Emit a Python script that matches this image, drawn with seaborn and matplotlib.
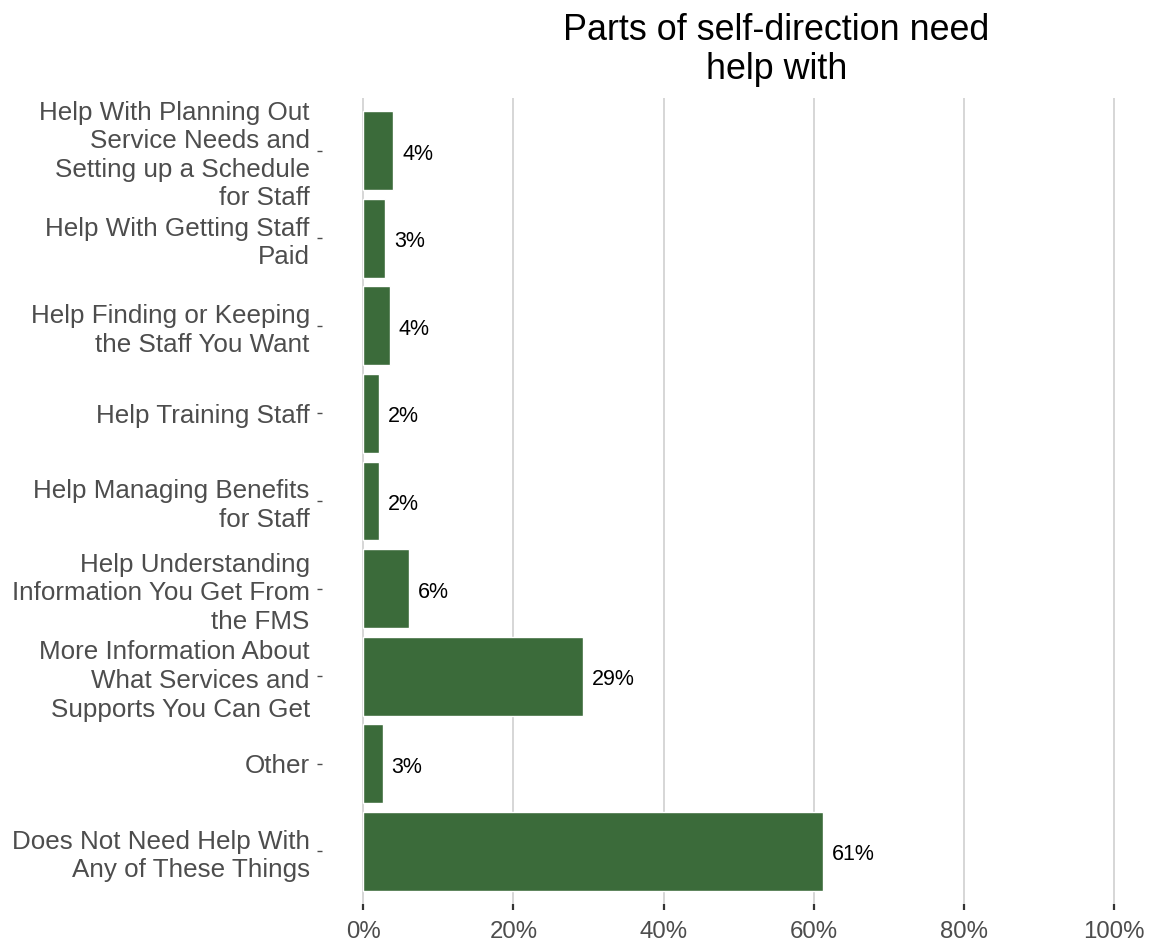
import numpy as np
import pandas as pd
import seaborn as sns
import matplotlib
matplotlib.use("Agg")
import matplotlib.pyplot as plt
from matplotlib.ticker import PercentFormatter

# data
categories = [
    "Help With Planning Out\nService Needs and\nSetting up a Schedule\nfor Staff",
    "Help With Getting Staff\nPaid",
    "Help Finding or Keeping\nthe Staff You Want",
    "Help Training Staff",
    "Help Managing Benefits\nfor Staff",
    "Help Understanding\nInformation You Get From\nthe FMS",
    "More Information About\nWhat Services and\nSupports You Can Get",
    "Other",
    "Does Not Need Help With\nAny of These Things",
]
shares = [0.0396, 0.029, 0.0355, 0.0213, 0.0213, 0.0613, 0.2926, 0.0257, 0.6125]
x_ticks = [0.0, 0.2, 0.4, 0.6, 0.8, 1.0]
title = "Parts of self-direction need\nhelp with"

bar_color = "#3b6b3a"
text_gray = "#4d4d4d"

sns.set_style("white")
plt.rcParams["font.family"] = ["Liberation Sans", "DejaVu Sans"]

df = pd.DataFrame({"category": categories, "share": shares})

W, H = 1150, 942
fig = plt.figure(figsize=(W / 100, H / 100), dpi=100)
# panel runs past the right edge of the image, as in the reference
left, right, top, bottom = 322, 1230.5, 98, 904
ax = fig.add_axes([left / W, 1 - bottom / H, (right - left) / W, (bottom - top) / H])

sns.barplot(data=df, x="share", y="category", orient="h", color=bar_color,
            width=0.9, saturation=1, ax=ax, zorder=3)

ax.set_xlim(-0.055, 1.155)
ax.set_ylim(len(categories) - 0.4, -0.6)
ax.set_xticks(x_ticks)
ax.xaxis.set_major_formatter(PercentFormatter(1.0, decimals=0))
ax.grid(axis="x", color="#cccccc", linewidth=1.1, zorder=0)
ax.grid(axis="y", visible=False)
for s in ax.spines.values():
    s.set_visible(False)

ax.set_xlabel("")
ax.set_ylabel("")
ax.tick_params(axis="x", length=4.5, width=1.6, color="#333333", pad=8,
               labelsize=17.3, labelcolor=text_gray, bottom=True)
ax.tick_params(axis="y", length=3.8, width=1.0, color=text_gray, pad=5,
               labelsize=18.7, labelcolor=text_gray, left=True)
for lab in ax.get_yticklabels():
    lab.set_linespacing(1.24)

for i, v in enumerate(shares):
    ax.annotate(f"{v * 100:.0f}%", (v, i), xytext=(6.5, -2.5), textcoords="offset points",
                ha="left", va="center", fontsize=15.5, color="black")

ax.set_title(title, fontsize=25.8, color="black", pad=14, linespacing=1.12)

fig.savefig("out.png", dpi=100)
